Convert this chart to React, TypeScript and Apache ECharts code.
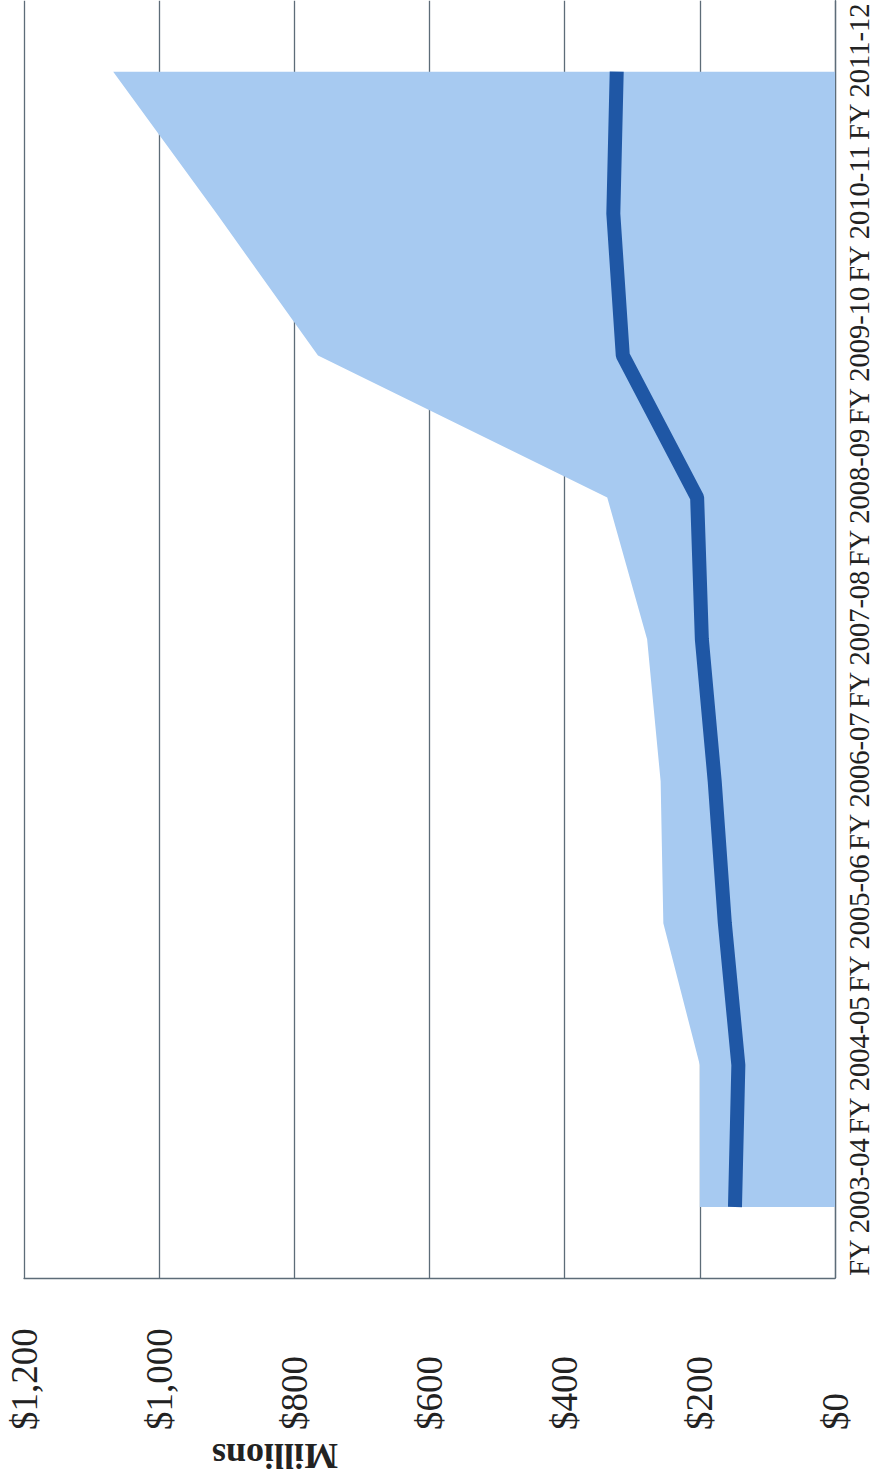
import React, { useEffect, useRef } from "react";
import * as echarts from "echarts";

const categories = [
  "FY 2003-04",
  "FY 2004-05",
  "FY 2005-06",
  "FY 2006-07",
  "FY 2007-08",
  "FY 2008-09",
  "FY 2009-10",
  "FY 2010-11",
  "FY 2011-12",
];

// Upper boundary of the shaded band ($ millions)
const rangeHigh = [200, 200, 254, 258, 278, 337, 765, 915, 1068];
// Dark blue line ($ millions)
const lineValues = [148, 143, 163, 178, 197, 204, 314, 328, 323];

const axisMin = 0;
const axisMax = 1200;
const axisStep = 200;
const axisTitle = "Millions";

export default function App() {
  const ref = useRef<HTMLDivElement>(null);

  useEffect(() => {
    if (!ref.current) return;
    const chart = echarts.init(ref.current, null, { renderer: "svg" });
    const serif = "Liberation Serif";
    const gridColor = "#5d6c78";
    chart.setOption({
      animation: false,
      backgroundColor: "#ffffff",
      grid: { left: 24, right: 47, top: 0, bottom: 202, containLabel: false },
      xAxis: {
        type: "value",
        position: "bottom",
        inverse: true,
        min: axisMin,
        max: axisMax,
        interval: axisStep,
        axisLine: { show: true, lineStyle: { color: gridColor, width: 1.3 } },
        axisTick: { show: false },
        splitLine: { show: true, lineStyle: { color: gridColor, width: 1.3 } },
        axisLabel: {
          rotate: 90,
          align: "left",
          verticalAlign: "middle",
          margin: 152,
          fontSize: 37,
          fontFamily: serif,
          color: "#222",
          formatter: (v: number) => "$" + v.toLocaleString("en-US"),
        },
      },
      yAxis: {
        type: "category",
        position: "right",
        data: categories,
        boundaryGap: true,
        axisLine: { show: true, lineStyle: { color: gridColor, width: 1.3 } },
        axisTick: { show: false },
        splitLine: { show: false },
        axisLabel: {
          rotate: 90,
          margin: 10,
          fontSize: 28.5,
          fontFamily: serif,
          color: "#222",
          interval: 0,
        },
      },
      series: [
        {
          type: "line",
          data: rangeHigh,
          symbol: "none",
          lineStyle: { width: 0 },
          areaStyle: { color: "#a7caf1", opacity: 1 },
          itemStyle: { color: "#a7caf1" },
          z: 1,
        },
        {
          type: "line",
          data: lineValues,
          symbol: "none",
          lineStyle: { width: 14, color: "#1f57a5" },
          itemStyle: { color: "#1f57a5" },
          z: 2,
        },
      ],
      graphic: [
        {
          type: "text",
          x: 275,
          y: 1456,
          rotation: Math.PI,
          style: {
            text: axisTitle,
            fontSize: 36,
            fontWeight: "bold",
            fontFamily: serif,
            fill: "#222",
            align: "center",
            verticalAlign: "middle",
          },
        },
      ],
    });
    return () => chart.dispose();
  }, []);

  return (
    <div
      ref={ref}
      style={{ position: "absolute", left: 0, top: 0, width: 882, height: 1480 }}
    />
  );
}
